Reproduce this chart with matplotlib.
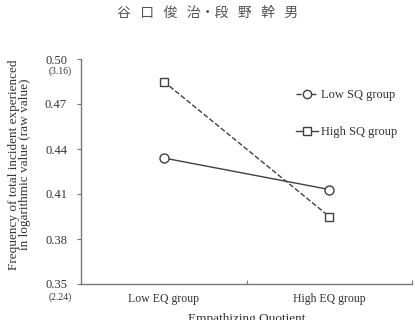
import numpy as np
import matplotlib.pyplot as plt
from matplotlib.lines import Line2D

# datos
grupos_eq = ['Low EQ group', 'High EQ group']
low_sq = [0.434, 0.413]
high_sq = [0.485, 0.395]
yticks = [0.35, 0.38, 0.41, 0.44, 0.47, 0.50]
raw_top = '(3.16)'
raw_bottom = '(2.24)'

plt.rcParams['font.family'] = ['Liberation Serif', 'DejaVu Serif']
gris = '#404040'

fig = plt.figure(figsize=(4.15, 3.2), dpi=100)
ax = fig.add_axes([81 / 415, 36 / 320, 331 / 415, 225 / 320])

x = np.arange(len(grupos_eq))
ax.plot(x, low_sq, '-', color=gris, lw=1.0, marker='o', ms=6.5,
        mfc='white', mec=gris, mew=1.0)
ax.plot(x, high_sq, '--', color=gris, lw=1.0, marker='s', ms=5.5,
        mfc='white', mec=gris, mew=1.0)

ax.set_xlim(-0.5, 1.5)
ax.set_ylim(0.35, 0.50)
ax.set_yticks(yticks)
ax.set_yticklabels(['%.2f' % v for v in yticks], fontsize=9, color='#333333')
ax.set_xticks([0.5, 1.5])
ax.set_xticklabels([])
ax.tick_params(axis='x', direction='in', length=3, color='#777777')
ax.tick_params(axis='y', direction='out', length=3, color='#777777', pad=7)
for i, g in enumerate(grupos_eq):
    ax.text(i, -0.065, g, transform=ax.get_xaxis_transform(), ha='center',
            va='center', fontsize=8.5, color='#333333')
for s in ['top', 'right']:
    ax.spines[s].set_visible(False)
for s in ['left', 'bottom']:
    ax.spines[s].set_color('#777777')
    ax.spines[s].set_linewidth(1.0)

# valores en crudo
ax.text(-0.063, 0.50 - 0.008, raw_top, transform=ax.get_yaxis_transform(),
        ha='center', va='center', fontsize=7, color='#333333')
ax.text(-0.063, 0.35 - 0.0085, raw_bottom, transform=ax.get_yaxis_transform(),
        ha='center', va='center', fontsize=7, color='#333333')

ax.set_ylabel('Frequency of total incident experienced\nin logarithmic value (raw value)',
              fontsize=9.5, color='#333333', linespacing=0.95)
ax.yaxis.set_label_coords(-0.15, 0.53)
fig.text(0.5 * (81 + 412) / 415, -0.015, 'Empathizing Quotient', ha='center',
         va='bottom', fontsize=9.5, color='#333333')

# leyenda (como en el original)
h1 = Line2D([], [], ls='--', color=gris, lw=1.0, marker='o', ms=6,
            mfc='white', mec=gris)
h2 = Line2D([], [], ls='-', color=gris, lw=1.0, marker='s', ms=5.5,
            mfc='white', mec=gris)
ax.legend([h1, h2], ['Low SQ group', 'High SQ group'], loc='upper left',
          bbox_to_anchor=(0.615, 0.915), frameon=False, fontsize=9,
          labelspacing=2.0, handlelength=1.8, handletextpad=0.25,
          labelcolor='#333333')

fig.text(0.5, 0.96, '谷   口   俊   治・段   野   幹   男', ha='center', va='center',
         fontsize=10, color='#555555', family=['Noto Sans CJK JP', 'DejaVu Sans'])

fig.savefig('out.png', dpi=100)
